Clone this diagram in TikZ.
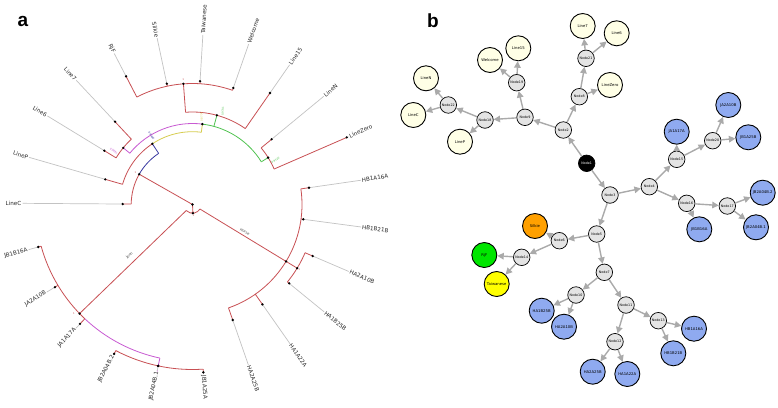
\documentclass[tikz,border=0pt]{standalone}
\usepackage{fontspec}
\setmainfont{DejaVu Sans}
\newfontfamily\arialb{Liberation Sans}
\usetikzlibrary{arrows.meta}
\definecolor{tred}{RGB}{200,80,84}
\definecolor{tmag}{RGB}{200,90,210}
\definecolor{tyel}{RGB}{215,205,80}
\definecolor{tgrn}{RGB}{80,195,80}
\definecolor{tblu}{RGB}{55,55,160}
\definecolor{lgray}{RGB}{195,195,195}
\definecolor{txt}{RGB}{40,40,40}
\definecolor{cream}{RGB}{255,255,230}
\definecolor{ngray}{RGB}{228,228,228}
\definecolor{nblue}{RGB}{143,170,240}
\definecolor{norange}{RGB}{255,160,0}
\definecolor{ngreen}{RGB}{0,230,0}
\definecolor{nyellow}{RGB}{255,255,0}
\definecolor{egray}{RGB}{170,170,170}
\newcommand\tRad[4]{\draw[#1] (#2:#3pt) -- (#2:#4pt);}
\newcommand\tArc[4]{\draw[#1] (#3:#2pt) arc[start angle=#3, end angle=#4, radius=#2pt];}
\newcommand\tDot[2]{\fill (#1:#2pt) circle (1.3pt);}
\newcommand\LeafR[5]{%
  \draw[br] (#2:#4pt) -- (#2:#3pt);
  \draw[gl] (#2:#3pt) -- (#2:170pt);
  \fill (#2:#3pt) circle (1.3pt);
  \node[lab, rotate=#2, anchor=west] (#1) at (#2:171pt) {#5};}
\newcommand\LeafL[5]{%
  \draw[br] (#2:#4pt) -- (#2:#3pt);
  \draw[gl] (#2:#3pt) -- (#2:170pt);
  \fill (#2:#3pt) circle (1.3pt);
  \node[lab, rotate=#2-180, anchor=east] (#1) at (#2:171pt) {#5};}
\begin{document}
\begin{tikzpicture}[x=1pt,y=1pt,
  br/.style={draw=tred, line width=0.8pt},
  gl/.style={draw=lgray, line width=0.7pt},
  lab/.style={text=txt, inner sep=0pt, font=\fontsize{5.6}{6}\selectfont},
  sup/.style={inner sep=0pt, font=\fontsize{2.6}{3}\selectfont},
  one/.style={inner sep=0pt, text=tred, font=\fontsize{2.6}{3}\selectfont},
  lf/.style={circle, draw=black, line width=0.9pt, fill=cream, minimum size=25pt, inner sep=0pt, font=\fontsize{3.8}{4}\selectfont},
  bl/.style={lf, fill=nblue},
  nd/.style={circle, draw=black, line width=0.7pt, fill=ngray, minimum size=16.5pt, inner sep=0pt, font=\fontsize{3.3}{4}\selectfont},
  ed/.style={draw=egray, line width=1.4pt, -{Triangle[length=6.5pt,width=6.5pt]}}
]
\useasboundingbox (0,0) rectangle (778,-407);
\fill[white] (0,0) rectangle (778,-407);
\node[font=\arialb\bfseries\fontsize{19}{19}\selectfont] (la) at (23,-21) {a};
\node[font=\arialb\bfseries\fontsize{19}{19}\selectfont] (lb) at (433,-21) {b};

% ---------------- panel a ----------------
\begin{scope}[shift={(192.5,-204.5)}]
% root and N_h
\tRad{br}{273}{0}{8.7}
\tArc{br}{8.7}{224}{328.7}
% Jenn
\tRad{br}{224}{8.7}{157}
\tArc{br}{157}{195.4}{226.7}
\tArc{draw=tmag, line width=0.8pt}{157}{226.7}{258}
\tRad{draw=tmag, line width=0.8pt}{258}{157}{165}
\tArc{br}{165}{242.3}{273.7}
% Horse
\tRad{br}{328.7}{8.7}{122.5}
\tArc{br}{109.5}{8.2}{-70.8}
\tArc{br}{122.5}{-23.2}{-39.2}
% upper clades
\tRad{br}{150.4}{0}{61.3}
\tArc{draw=tblu, line width=0.8pt}{61.3}{123.5}{150.4}
\tArc{br}{61.3}{150.4}{179.6}
\tRad{draw=tblu, line width=0.8pt}{123.5}{61.3}{72.8}
\tArc{br}{72.8}{163.9}{123.5}
\tArc{draw=tyel, line width=0.8pt}{72.8}{123.5}{83}
\tRad{draw=tyel, line width=0.8pt}{83}{72.8}{81}
\tArc{draw=tmag, line width=0.8pt}{81}{140.7}{83}
\tArc{draw=tgrn, line width=0.8pt}{81}{83}{31.8}
\tRad{draw=tmag, line width=0.8pt}{140.7}{81}{89.5}
\tArc{br}{89.5}{133.1}{148.6}
\tRad{draw=tgrn, line width=0.8pt}{74.7}{81}{92.5}
\tArc{br}{92.5}{94.3}{55.2}
\tRad{draw=tgrn, line width=0.8pt}{31.8}{81}{89}
\tArc{br}{89}{39.5}{23.5}
\tRad{br}{94.3}{92.5}{121}
\tArc{br}{121}{117.4}{70.7}
% leaves, right side
\LeafR{lWelcome}{70.7}{123.5}{121}{Welcome}
\LeafR{lTaiwanese}{86.5}{123.5}{121}{Taiwanese}
\LeafR{lLine15}{55.2}{135.8}{92.5}{Line15}
\LeafR{lLineN}{39.5}{102.6}{89}{LineN}
\LeafR{lLineZero}{23.5}{168.2}{89}{LineZero}
\LeafR{lHBa}{8.2}{117.7}{109.5}{HB1A16A}
\LeafR{lHBb}{-7.6}{111.8}{109.5}{HB1B21B}
\LeafR{lHAa}{-23.2}{130.8}{122.5}{HA2A10B}
\LeafR{lHAb}{-39.2}{124.8}{122.5}{HA1B25B}
\LeafR{lHAc}{-55}{122}{109.5}{HA1A22A}
\LeafR{lHAd}{-70.8}{122.3}{109.5}{HA2A25B}
\LeafR{lJBa}{-86.3}{168.2}{165}{JB1A25A}
% leaves, left side
\LeafL{lSilkie}{102}{123.5}{121}{Silkie}
\LeafL{lRjF}{117.4}{144.4}{121}{RjF}
\LeafL{lLine7}{133.1}{113.4}{89.5}{Line7}
\LeafL{lLine6}{148.6}{103.3}{89.5}{Line6}
\LeafL{lLineP}{163.9}{90.8}{72.8}{LineP}
\LeafL{lLineC}{179.6}{69.8}{61.3}{LineC}
\LeafL{lJBb}{195.4}{160}{157}{JB1B16A}
\LeafL{lJAa}{211}{160.5}{157}{JA2A10B}
\LeafL{lJAb}{226.7}{164}{157}{JA1A17A}
\LeafL{lJBc}{242.3}{168.7}{165}{JB2A04B.2}
\LeafL{lJBd}{258}{165}{165}{JB2A04B.1}
% internal dots
\tDot{0}{0}
\tDot{273}{8.7}
\tDot{224}{157}
\tDot{258}{165}
\tDot{328.7}{109.5}
\tDot{328.7}{122.5}
\tDot{150.4}{61.3}
\tDot{123.5}{72.8}
\tDot{83}{81}
\tDot{140.7}{89.5}
\tDot{74.7}{92.5}
\tDot{31.8}{89}
\tDot{94.3}{121}
% branch labels
\node[text=black!70, inner sep=0pt, font=\fontsize{3.6}{4}\selectfont, rotate=44] (jenn) at (219:81) {Jenn};
\node[text=black!70, inner sep=0pt, font=\fontsize{3.6}{4}\selectfont, rotate=-31.3] (horse) at (-27.5:59) {Horse};
\node[sup, text=tmag, rotate=-38] (s1) at (146:95) {0.9891};
\node[sup, text=tblu, rotate=-58] (s2) at (121:80) {0.9486};
\node[sup, text=tyel, rotate=90] (s3) at (84:88) {0.8774};
\node[sup, text=tgrn, rotate=88] (s4) at (72:98) {0.9741};
\node[sup, text=tgrn, rotate=32] (s5) at (28:94) {0.9326};
\end{scope}
% small support marks
\node[one] (o1) at (183.3,-80) {1};
\node[one] (o2) at (299.3,-270) {1};
\node[one] (o3) at (74,-313.5) {1};
\node[one] (o4) at (193.5,-216) {1};
\node[one] (o5) at (135.5,-172.5) {1};
\node[one, text=tmag] (o6) at (157.5,-372) {1};

% ---------------- panel b ----------------
\node[nd, fill=black, text=white] (n1) at (586.7,-163.3) {Node1};
\node[nd] (n2) at (563.3,-130) {Node2};
\node[nd] (n3) at (610,-195) {Node3};
\node[nd] (n4) at (649.3,-186.7) {Node4};
\node[nd] (n5) at (596.7,-234) {Node5};
\node[nd] (n6) at (559.3,-240.7) {Node6};
\node[nd] (n7) at (604.3,-272.3) {Node7};
\node[nd] (n8) at (579.3,-96.7) {Node8};
\node[nd] (n9) at (525,-117.3) {Node9};
\node[nd] (n10) at (576,-295) {Node10};
\node[nd] (n11) at (626,-305) {Node11};
\node[nd] (n12) at (615,-341.7) {Node12};
\node[nd] (n13) at (658.3,-320.7) {Node13};
\node[nd] (n14) at (521.7,-257.3) {Node14};
\node[nd] (n15) at (676.7,-159.3) {Node15};
\node[nd] (n16) at (686.7,-203.3) {Node16};
\node[nd] (n17) at (727.3,-206) {Node17};
\node[nd] (n18) at (485,-120) {Node18};
\node[nd] (n19) at (516.7,-82.7) {Node19};
\node[nd] (n20) at (712.7,-140.7) {Node20};
\node[nd] (n21) at (586,-58.3) {Node21};
\node[nd] (n22) at (448.3,-105) {Node22};

\node[lf] (Line7) at (582.7,-26) {Line7};
\node[lf] (Line6) at (616.7,-33.3) {Line6};
\node[lf] (Line15) at (518.3,-48.3) {Line15};
\node[lf] (Welcome) at (490,-60) {Welcome};
\node[lf] (LineN) at (426,-78.3) {LineN};
\node[lf] (LineZero) at (610,-85) {LineZero};
\node[lf] (LineC) at (413.3,-115) {LineC};
\node[lf] (LineP) at (460,-141.7) {LineP};
\node[bl] (JAx) at (728.3,-105) {JA2A10B};
\node[bl] (JAy) at (676.7,-131.7) {JA1A17A};
\node[bl] (JBy) at (748.3,-137.3) {JB1A25B};
\node[bl] (JBa) at (762.7,-192.7) {JB2A04B.2};
\node[bl] (JBb) at (756,-227.3) {JB2A04B.1};
\node[bl] (JBc) at (699.3,-229.3) {JB1B16A};
\node[lf, fill=norange] (Silkie) at (535,-226) {Silkie};
\node[lf, fill=ngreen] (RjF) at (484.3,-255) {RjF};
\node[lf, fill=nyellow] (Taiwanese) at (496.7,-284) {Taiwanese};
\node[bl] (HAa) at (541.7,-310.7) {HA1B25B};
\node[bl] (HAb) at (564,-326.7) {HA2A10B};
\node[bl] (HBa) at (694,-328.7) {HB1A16A};
\node[bl] (HBb) at (673.3,-353.3) {HB1B21B};
\node[bl] (HAc) at (592.7,-371.7) {HA2A25B};
\node[bl] (HAd) at (627.3,-374) {HA1A22A};

\foreach \a/\b in {n1/n2,n1/n3,n2/n9,n2/n8,n8/LineZero,n8/n21,n21/Line7,n21/Line6,
  n9/n18,n9/n19,n19/Welcome,n19/Line15,n18/n22,n18/LineP,n22/LineN,n22/LineC,
  n3/n4,n3/n5,n4/n15,n4/n16,n15/JAy,n15/n20,n20/JAx,n20/JBy,n16/JBc,n16/n17,n17/JBa,n17/JBb,
  n5/n6,n5/n7,n6/Silkie,n6/n14,n14/RjF,n14/Taiwanese,n7/n10,n7/n11,n10/HAa,n10/HAb,
  n11/n12,n11/n13,n12/HAc,n12/HAd,n13/HBa,n13/HBb}
  \draw[ed] (\a) -- (\b);
\end{tikzpicture}
\end{document}
